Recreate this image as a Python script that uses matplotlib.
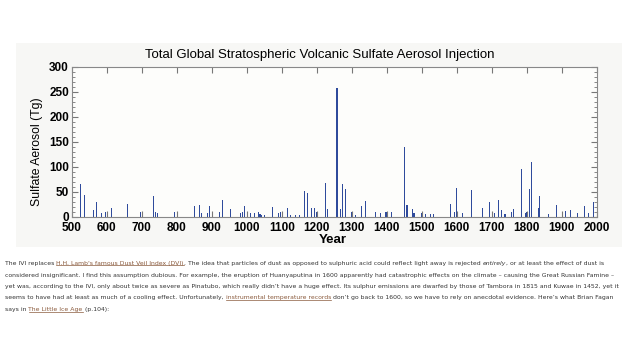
import matplotlib
matplotlib.use("Agg")
import matplotlib.pyplot as plt
from matplotlib.patches import Rectangle
from matplotlib.lines import Line2D
from matplotlib.ticker import MultipleLocator

# eruption years and sulfate injection (Tg)
years = [524, 536, 562, 571, 585, 596, 614, 660, 697, 734, 740, 745, 795,
         850, 866, 871, 888, 893, 921, 930, 954, 983, 988, 994, 1012, 1022,
         1033, 1038, 1043, 1050, 1075, 1090, 1097, 1116, 1125, 1140, 1150,
         1164, 1174, 1186, 1193, 1200, 1226, 1230, 1258, 1267, 1274, 1283,
         1300, 1311, 1327, 1340, 1369, 1381, 1398, 1414, 1452, 1458, 1474,
         1478, 1500, 1512, 1524, 1533, 1583, 1593, 1600, 1617, 1641, 1673,
         1693, 1707, 1719, 1729, 1738, 1757, 1762, 1784, 1796, 1800, 1809,
         1815, 1833, 1836, 1862, 1884, 1903, 1912, 1925, 1944, 1964, 1976, 1991]
sulfate = [65, 43, 13, 30, 7, 10, 17, 25, 10, 41, 9, 8, 10,
           22, 23, 7, 8, 22, 10, 33, 15, 7, 10, 21, 8, 7,
           10, 5, 4, 4, 20, 7, 10, 17, 3, 3, 3,
           52, 47, 18, 18, 9, 68, 15, 258, 15, 65, 55,
           10, 3, 21, 32, 10, 7, 10, 10, 139, 23, 15,
           8, 8, 5, 5, 5, 25, 10, 58, 7, 53, 17,
           29, 7, 33, 13, 5, 10, 15, 95, 7, 10, 55,
           110, 17, 42, 5, 23, 10, 12, 13, 8, 22, 7, 30]

title = "Total Global Stratospheric Volcanic Sulfate Aerosol Injection"

# paragraph under the chart: (text, style) pieces per line
para = [
    [("The IVI replaces ", "n"), ("H.H. Lamb's famous Dust Veil Index (DVI)", "link"),
     (". The idea that particles of dust as opposed to sulphuric acid could reflect light away is rejected ", "n"),
     ("entirely", "i"), (", or at least the effect of dust is", "n")],
    [("considered insignificant. I find this assumption dubious. For example, the eruption of Huanyaputina "
      "in 1600 apparently had catastrophic effects on the climate \u2013 causing the Great Russian Famine \u2013", "n")],
    [("yet was, according to the IVI, only about twice as severe as Pinatubo, which really didn\u2019t have a "
      "huge effect. Its sulphur emissions are dwarfed by those of Tambora in 1815 and Kuwae in 1452, yet it", "n")],
    [("seems to have had at least as much of a cooling effect. Unfortunately, ", "n"),
     ("instrumental temperature records", "link"),
     (" don\u2019t go back to 1600, so we have to rely on anecdotal evidence. Here\u2019s what Brian Fagan", "n")],
    [("says in ", "n"), ("The Little Ice Age", "link"), (" (p.104):", "n")],
]

W, H = 640, 360
fig = plt.figure(figsize=(6.4, 3.6), dpi=100)
fig.patch.set_facecolor("white")

# light grey panel behind the chart
fig.patches.append(Rectangle((16 / W, 1 - 247 / H), (622 - 16) / W, (247 - 43) / H,
                             transform=fig.transFigure, facecolor="#f7f7f5",
                             edgecolor="none", zorder=-5))

ax = fig.add_axes([71.7 / W, 1 - 216.7 / H, 525 / W, 150 / H])
ax.set_facecolor("#fdfdfb")
ax.bar(years, sulfate, width=3, color="#2f4b9c", linewidth=0)
ax.set_xlim(500, 2000)
ax.set_ylim(0, 300)
ax.xaxis.set_major_locator(MultipleLocator(100))
ax.yaxis.set_major_locator(MultipleLocator(50))
ax.yaxis.set_minor_locator(MultipleLocator(10))
ax.tick_params(which="both", direction="in", top=True, right=True, color="#777777")
ax.tick_params(which="major", length=4, width=0.8, labelsize=8.5, pad=2)
ax.tick_params(axis="x", which="major", pad=4)
ax.tick_params(which="minor", length=2, width=0.6)
for lab in ax.get_xticklabels() + ax.get_yticklabels():
    lab.set_fontfamily("Liberation Sans")
    lab.set_fontweight("bold")
for s in ax.spines.values():
    s.set_color("#888888")
    s.set_linewidth(0.8)

fig.text(0.5, 1 - 55 / H, title, ha="center", va="center",
         family="Liberation Sans", fontsize=9.5)
fig.text(37 / W, 1 - 152 / H, "Sulfate Aerosol (Tg)", rotation=90, ha="center",
         va="center", family="Liberation Sans", fontsize=8.8)
fig.text(333 / W, 1 - 240 / H, "Year", ha="center", va="center",
         family="Liberation Sans", fontsize=9.5, fontweight="bold")

# lay out the paragraph piece by piece, measuring as we go
fig.canvas.draw()
renderer = fig.canvas.get_renderer()
line_y = [263, 275, 286.5, 298, 310]
fsize = 4.42
for row, ypx in zip(para, line_y):
    xpx = 5
    for txt, style in row:
        kw = dict(family="DejaVu Sans", fontsize=fsize, va="center", ha="left",
                  color="#333333")
        if style == "i":
            kw["style"] = "italic"
        if style == "link":
            kw["color"] = "#8a5a3c"
        t = fig.text(xpx / W, 1 - ypx / H, txt, **kw)
        bb = t.get_window_extent(renderer)
        if style == "link":
            uy = (bb.y0 + 0.5) / H
            fig.lines.append(Line2D([bb.x0 / W, bb.x1 / W], [uy, uy],
                                    transform=fig.transFigure, color="#8a5a3c",
                                    linewidth=0.5))
        xpx = bb.x1

fig.savefig("out.png", dpi=100)
